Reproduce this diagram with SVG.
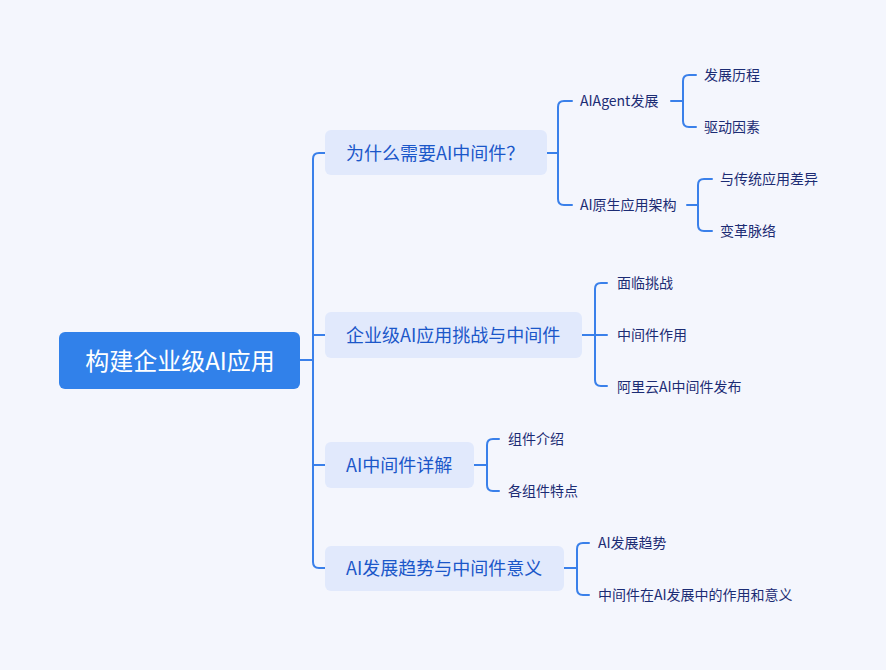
<svg xmlns="http://www.w3.org/2000/svg" width="886" height="670" viewBox="0 0 886 670">
<style>
.bg{fill:#f4f6fd}
.root{fill:#3181ea}
.rootT{font-family:"Noto Sans CJK SC","Noto Sans",sans-serif;font-size:24px;fill:#ffffff;text-anchor:middle;dominant-baseline:central}
.l1{fill:#e1e9fc}
.l1T{font-family:"Noto Sans CJK SC","Noto Sans",sans-serif;font-size:18px;fill:#1b57c9;dominant-baseline:central}
.l2T{font-family:"Noto Sans CJK SC","Noto Sans",sans-serif;font-size:14px;fill:#1c2c74;dominant-baseline:central}
.c{fill:none;stroke:#3a80ea;stroke-width:2;stroke-linecap:round;stroke-linejoin:round}
</style>
<rect class="bg" x="0" y="0" width="886" height="670"/>
<g id="connectors">
<path class="c" d="M300 360 H313"/>
<path class="c" d="M325 153 H319 Q313 153 313 159 V562 Q313 568 319 568 H325 M313 335 H325 M313 465 H325"/>
<path class="c" d="M547 153 H558"/>
<path class="c" d="M572 101 H564 Q558 101 558 107 V199 Q558 205 564 205 H572"/>
<path class="c" d="M671 101 H683"/>
<path class="c" d="M696 75 H689 Q683 75 683 81 V121 Q683 127 689 127 H696"/>
<path class="c" d="M687 205 H698"/>
<path class="c" d="M712 179 H704 Q698 179 698 185 V225 Q698 231 704 231 H712"/>
<path class="c" d="M582 335 H607"/>
<path class="c" d="M607 283 H601 Q595 283 595 289 V380 Q595 386 601 386 H607"/>
<path class="c" d="M474 465 H487"/>
<path class="c" d="M499 439 H493 Q487 439 487 445 V485 Q487 491 493 491 H499"/>
<path class="c" d="M564 568 H577"/>
<path class="c" d="M589 543 H583 Q577 543 577 549 V589 Q577 595 583 595 H589"/>
</g>
<g id="root"><rect class="root" x="59" y="332" width="241" height="57" rx="6"/><text class="rootT" x="180" y="359">构建企业级AI应用</text></g>
<g id="n1"><rect class="l1" x="325" y="130" width="222" height="45" rx="6"/><text class="l1T" x="346" y="152">为什么需要AI中间件？</text></g>
<g id="n1a"><text class="l2T" x="580" y="100">AIAgent发展</text></g>
<g id="n1a1"><text class="l2T" x="704" y="74">发展历程</text></g>
<g id="n1a2"><text class="l2T" x="704" y="126">驱动因素</text></g>
<g id="n1b"><text class="l2T" x="580" y="204">AI原生应用架构</text></g>
<g id="n1b1"><text class="l2T" x="720" y="178">与传统应用差异</text></g>
<g id="n1b2"><text class="l2T" x="720" y="230">变革脉络</text></g>
<g id="n2"><rect class="l1" x="325" y="312" width="257" height="46" rx="6"/><text class="l1T" x="346" y="334">企业级AI应用挑战与中间件</text></g>
<g id="n2a"><text class="l2T" x="617" y="282">面临挑战</text></g>
<g id="n2b"><text class="l2T" x="617" y="334">中间件作用</text></g>
<g id="n2c"><text class="l2T" x="617" y="386">阿里云AI中间件发布</text></g>
<g id="n3"><rect class="l1" x="325" y="442" width="149" height="46" rx="6"/><text class="l1T" x="346" y="464">AI中间件详解</text></g>
<g id="n3a"><text class="l2T" x="508" y="438">组件介绍</text></g>
<g id="n3b"><text class="l2T" x="508" y="490">各组件特点</text></g>
<g id="n4"><rect class="l1" x="325" y="546" width="239" height="45" rx="6"/><text class="l1T" x="346" y="567">AI发展趋势与中间件意义</text></g>
<g id="n4a"><text class="l2T" x="598" y="542">AI发展趋势</text></g>
<g id="n4b"><text class="l2T" x="598" y="594">中间件在AI发展中的作用和意义</text></g>
</svg>
